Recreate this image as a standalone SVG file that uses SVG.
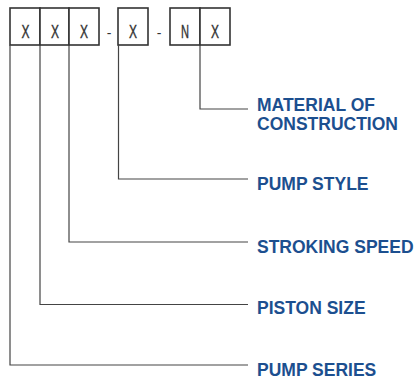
<svg xmlns="http://www.w3.org/2000/svg" width="418" height="384" viewBox="0 0 418 384">
<style>
.box{fill:#fff;stroke:#333;stroke-width:1.6}
.ch{font-family:"Liberation Sans",Arial,sans-serif;font-size:18px;fill:#333;stroke:#333;stroke-width:0.4;text-anchor:middle}
.dash{font-family:"Liberation Sans",Arial,sans-serif;font-size:14px;fill:#333;text-anchor:middle}
.lbl{font-family:"Liberation Sans",Arial,sans-serif;font-weight:bold;font-size:17.5px;fill:#1c4f8f}
.ln{fill:none;stroke:#444;stroke-width:1.2}
</style>
<rect width="418" height="384" fill="#fff"/>
<g id="code">
<rect class="box" x="10" y="8" width="30" height="37"/>
<rect class="box" x="40" y="8" width="29" height="37"/>
<rect class="box" x="69" y="8" width="30" height="37"/>
<rect class="box" x="118" y="8" width="30" height="37"/>
<rect class="box" x="170" y="8" width="30" height="37"/>
<rect class="box" x="200" y="8" width="30" height="37"/>
<text class="ch" x="25.5" y="38.3" textLength="8" lengthAdjust="spacingAndGlyphs">X</text>
<text class="ch" x="55" y="38.3" textLength="8" lengthAdjust="spacingAndGlyphs">X</text>
<text class="ch" x="84" y="38.3" textLength="8" lengthAdjust="spacingAndGlyphs">X</text>
<text class="ch" x="133" y="38.3" textLength="8" lengthAdjust="spacingAndGlyphs">X</text>
<text class="ch" x="185" y="38.3" textLength="8" lengthAdjust="spacingAndGlyphs">N</text>
<text class="ch" x="215" y="38.3" textLength="8" lengthAdjust="spacingAndGlyphs">X</text>
<text class="dash" x="109" y="38">-</text>
<text class="dash" x="159" y="38">-</text>
</g>
<g id="connectors">
<polyline class="ln" points="200,45 200,109 248,109"/>
<polyline class="ln" points="118.5,45 118.5,179 248,179"/>
<polyline class="ln" points="69,45 69,242 248,242"/>
<polyline class="ln" points="40,45 40,304.5 248,304.5"/>
<polyline class="ln" points="10,45 10,365 248,365"/>
</g>
<g id="material"><text class="lbl" x="257" y="111">MATERIAL OF</text><text class="lbl" x="257" y="130">CONSTRUCTION</text></g>
<g id="pump-style"><text class="lbl" x="257" y="190">PUMP STYLE</text></g>
<g id="stroking-speed"><text class="lbl" x="257" y="253">STROKING SPEED</text></g>
<g id="piston-size"><text class="lbl" x="257" y="314">PISTON SIZE</text></g>
<g id="pump-series"><text class="lbl" x="257" y="376">PUMP SERIES</text></g>
</svg>
